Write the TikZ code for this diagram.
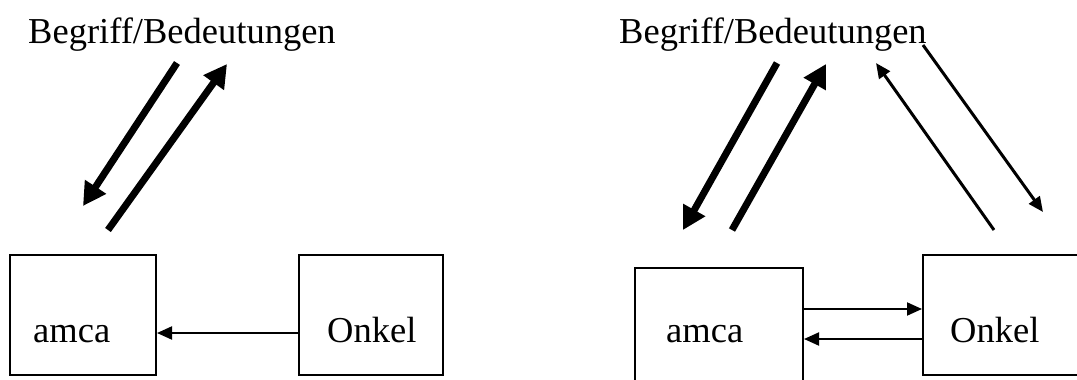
\documentclass[tikz,border=0pt]{standalone}
\usepackage{fontspec}
\setmainfont{Liberation Serif}
\usetikzlibrary{arrows.meta}
\begin{document}
\begin{tikzpicture}[x=1pt,y=-1pt,
  box/.style={draw, line width=2pt, inner sep=0pt, rectangle},
  lbl/.style={inner sep=0pt, anchor=base west, font=\fontsize{36.5}{40}\selectfont},
  thickarrow/.style={line width=7pt, -{Triangle[length=23pt,width=24pt]}},
  thindiag/.style={line width=3pt, -{Triangle[length=15pt,width=13pt]}},
  thinhoriz/.style={line width=2pt, -{Triangle[length=15pt,width=13pt]}}]
\clip (0,0) rectangle (1077,380);
\fill[white] (0,0) rectangle (1077,380);

% left panel
\node[lbl] (titleL) at (28,43) {Begriff/Bedeutungen};
\node[box, minimum width=146pt, minimum height=120pt] (amcaL) at (83,315) {};
\node[box, minimum width=144pt, minimum height=120pt] (onkelL) at (371,315) {};
\node[lbl] (amcaLt) at (33,342) {amca};
\node[lbl] (onkelLt) at (327,342) {Onkel};
\coordinate (l1s) at (177,63);
\coordinate (l1e) at (83,206);
\coordinate (l2s) at (108,230);
\coordinate (l2e) at (227,64);
\draw[thickarrow] (l1s) -- (l1e);
\draw[thickarrow] (l2s) -- (l2e);
\draw[thinhoriz] ([yshift=-18pt]onkelL.west) -- ([yshift=-18pt]amcaL.east);

% right panel
\node[lbl] (titleR) at (619,43) {Begriff/Bedeutungen};
\node[box, minimum width=168pt, minimum height=152pt] (amcaR) at (719,344) {};
\node[box, minimum width=167pt, minimum height=120pt] (onkelR) at (1006.5,315) {};
\node[lbl] (amcaRt) at (666,342) {amca};
\node[lbl] (onkelRt) at (950,342) {Onkel};
\coordinate (r1s) at (777,63);
\coordinate (r1e) at (683,230);
\coordinate (r2s) at (732,230);
\coordinate (r2e) at (826,64);
\coordinate (r3s) at (994,230);
\coordinate (r3e) at (876,63);
\coordinate (r4s) at (923,45);
\coordinate (r4e) at (1043,212);
\draw[thickarrow] (r1s) -- (r1e);
\draw[thickarrow] (r2s) -- (r2e);
\draw[thindiag] (r3s) -- (r3e);
\draw[thindiag] (r4s) -- (r4e);
\draw[thinhoriz] ([yshift=35pt]amcaR.east) -- ([yshift=6pt]onkelR.west);
\draw[thinhoriz] ([yshift=-24pt]onkelR.west) -- ([yshift=5pt]amcaR.east);
\end{tikzpicture}
\end{document}
